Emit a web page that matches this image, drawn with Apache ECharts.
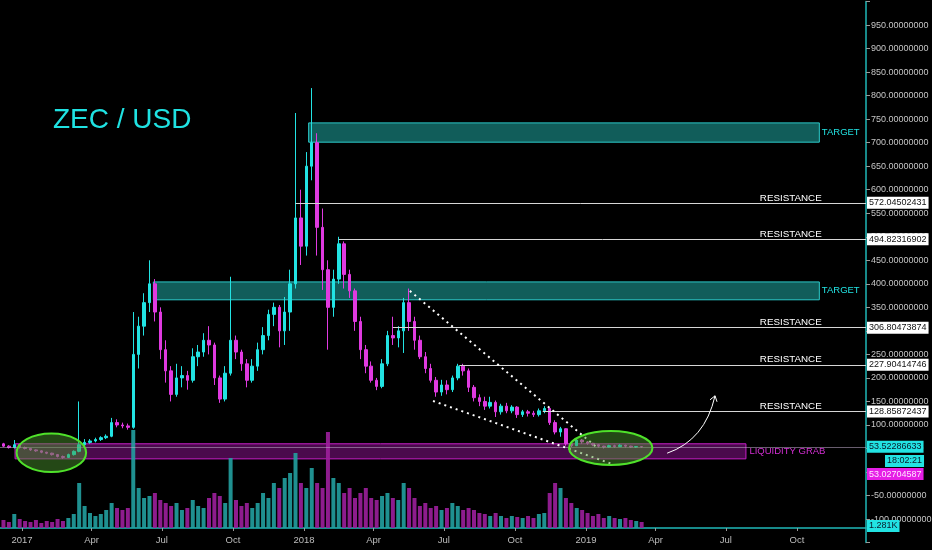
<!DOCTYPE html>
<html><head><meta charset="utf-8">
<script src="https://cdn.jsdelivr.net/npm/echarts@6/dist/echarts.min.js"></script>
<style>html,body{margin:0;padding:0;background:#000;overflow:hidden;}#c{width:932px;height:550px;}</style>
</head><body><div id="c"></div>
<script>
// ---------- data (weekly candles) ----------
const firstWeek = '2016-12-08';
const opens  = [60,55,52,58,52,50,47,45,42,40,37,33,31,37,44,58,63,66,69,73,76,105,100,98,95,250,310,360,400,340,260,215,165,200,205,195,245,255,280,270,200,155,210,280,255,230,195,225,260,290,335,350,300,340,400,540,480,650,700,520,430,350,410,485,420,385,320,260,225,195,182,230,290,285,300,360,320,280,245,220,195,170,185,175,200,225,215,180,158,150,140,148,128,140,130,138,122,128,125,122,130,135,105,85,92,60,56,68,64,61,58,55,53,56,54,57,55,53,54];
const closes = [55,52,58,52,50,47,45,42,40,37,33,31,37,44,58,63,66,69,73,76,105,100,98,95,250,310,360,400,340,260,215,165,200,205,195,245,255,280,270,200,155,210,280,255,230,195,225,260,290,335,350,300,340,400,540,480,650,700,520,430,350,410,485,420,385,320,260,225,195,182,230,290,285,300,360,320,280,245,220,195,170,185,175,200,225,215,180,158,150,140,148,128,140,130,138,122,128,125,122,130,135,105,85,92,60,56,68,64,61,58,55,53,56,54,57,55,53,54,53.5];
const lows   = [53,50,50,50,48,45,43,40,38,35,31,28,30,35,42,55,60,63,66,70,74,95,93,90,92,220,290,340,320,240,190,150,160,180,175,190,225,245,250,185,147,150,205,240,215,180,190,215,250,280,310,265,270,300,390,440,460,620,460,387,260,330,400,390,370,300,240,210,190,174,178,225,270,265,253,300,260,240,210,190,160,162,165,170,195,205,170,150,140,132,135,117,122,125,125,115,117,118,117,118,125,100,80,75,56,53,55,60,58,55,52,50,52,52,53,52,51,51,52];
const highs  = [62,57,68,60,54,51,48,46,43,41,38,35,39,46,150,70,70,73,76,80,115,112,105,103,340,330,380,450,410,350,280,225,230,225,215,263,270,295,310,275,205,225,415,290,260,240,240,275,308,345,360,355,372,430,763,600,680,816,720,560,450,430,500,490,430,390,330,270,235,200,240,300,330,310,370,390,330,290,255,230,202,196,195,205,230,230,220,185,165,160,160,152,145,147,142,140,132,132,130,135,140,137,110,96,93,63,72,70,66,62,59,56,58,58,59,58,56,55,55];
const volumes = [8,6,14,9,7,6,8,5,7,6,9,7,10,14,45,22,15,12,14,18,25,20,18,20,98,40,30,32,35,28,25,22,25,18,20,28,22,20,30,35,32,25,70,28,22,25,20,25,35,30,45,40,50,55,75,45,40,60,45,40,96,50,45,35,40,30,35,40,30,28,32,35,30,28,45,40,30,22,25,20,22,18,20,25,22,18,20,18,15,14,12,15,12,10,12,11,10,12,10,14,15,35,45,40,30,25,20,18,15,12,14,10,12,10,9,10,8,7,6];

const xTickDates  = ['2017-01-01','2017-04-01','2017-07-01','2017-10-01','2018-01-01','2018-04-01','2018-07-01','2018-10-01','2019-01-01','2019-04-01','2019-07-01','2019-10-01'];
const xTickLabels = ['2017','Apr','Jul','Oct','2018','Apr','Jul','Oct','2019','Apr','Jul','Oct'];

const resistanceLevels = [572.04502431, 494.82316902, 306.80473874, 227.90414746, 128.85872437];
const resistanceStarts = ['2017-12-21','2018-02-15','2018-04-26','2018-07-21','2018-11-06'];
const targetZones = [ {from:'2018-01-07', to:'2019-10-30', low:701, high:742}, {from:'2017-06-20', to:'2019-10-30', low:366, high:404} ];
const liquidityZone = {from:'2016-12-23', to:'2019-07-27', low:28, high:60};
const lastPrice = 53.52286633;
const lastPriceText = '53.52286633';
const prevPriceText = '53.02704587';
const countdownText = '18:02:21';
const volumeTagText = '1.281K';

// ---------- helpers ----------
const DAY = 86400000;
const T = s => Date.parse(s + 'T00:00:00Z');
const t2017 = T('2017-01-01');
const xMin = t2017 - 28.48 * DAY;
const xMax = t2017 + 1092.4 * DAY;
const weekDates = opens.map((_, i) => T(firstWeek) + i * 7 * DAY);
const tickTs = xTickDates.map(T);

const CYAN = '#22e3e3', MAG = '#e03ae0';
const FONT = "'Liberation Sans',Arial,sans-serif";
const HIDDEN = { color: 'rgba(0,0,0,0)', width: 0 };

const candleData = weekDates.map((t, i) => [t, opens[i], closes[i], lows[i], highs[i]]);
const volData = weekDates.map((t, i) => ({
  value: [t, volumes[i]],
  itemStyle: { color: closes[i] >= opens[i] ? 'rgba(34,160,160,0.9)' : 'rgba(156,31,156,0.9)' }
}));

function tag(text, bg, fg, extra) {
  return Object.assign({ show: true, position: 'end', formatter: text, backgroundColor: bg, color: fg,
    fontSize: 9, fontFamily: FONT, padding: [2, 2, 1, 2], distance: 1 }, extra || {});
}

const markLineData = [];
resistanceLevels.forEach((lv, i) => {
  markLineData.push([
    { coord: [T(resistanceStarts[i]), lv], lineStyle: { color: '#d6d6d6', width: 1, type: 'solid' },
      label: tag(lv.toFixed(8), '#ffffff', '#111') },
    { coord: [xMax, lv] }
  ]);
});
markLineData.push([
  { coord: [xMin, lastPrice], lineStyle: { color: 'rgba(190,170,200,0.55)', width: 1, type: 'solid' },
    label: tag(lastPriceText, CYAN, '#0a1a2a') },
  { coord: [xMax, lastPrice] }
]);
markLineData.push([
  { coord: [xMax - 30 * DAY, 23.4], lineStyle: HIDDEN, label: tag(countdownText, CYAN, '#0a1a2a', { distance: [19, 0] }) },
  { coord: [xMax, 23.4] }
]);
markLineData.push([
  { coord: [xMax - 30 * DAY, -4.3], lineStyle: HIDDEN, label: tag(prevPriceText, '#e61ee6', '#ffe8ff') },
  { coord: [xMax, -4.3] }
]);
markLineData.push([
  { coord: [T('2018-05-18'), 385], lineStyle: { color: '#ffffff', width: 2, type: [2, 4] }, label: { show: false } },
  { coord: [T('2019-01-16'), 51] }
]);
markLineData.push([
  { coord: [T('2018-06-17'), 151], lineStyle: { color: '#ffffff', width: 2, type: [2, 4] }, label: { show: false } },
  { coord: [T('2019-02-04'), 17] }
]);

const markAreaData = targetZones.map(z => [
  { coord: [T(z.from), z.high], itemStyle: { color: '#115d5a', borderColor: '#2ccaca', borderWidth: 1 },
    label: { show: true, position: 'right', distance: 2, formatter: 'TARGET', color: CYAN, fontSize: 9.5, fontFamily: FONT } },
  { coord: [T(z.to), z.low] }
]);
markAreaData.push([
  { coord: [T(liquidityZone.from), liquidityZone.high], itemStyle: { color: '#4a0a4c', borderColor: '#c81fc8', borderWidth: 1 },
    label: { show: true, position: 'right', distance: 3, formatter: 'LIQUIDITY GRAB', color: '#d42ed4', fontSize: 9.5, fontFamily: FONT } },
  { coord: [T(liquidityZone.to), liquidityZone.low] }
]);

const markPointData = resistanceLevels.map(lv => ({
  coord: [T('2019-09-23'), lv], symbolSize: 0,
  label: { show: true, position: 'top', distance: 0, formatter: 'RESISTANCE', color: '#ffffff', fontSize: 9.8, fontFamily: FONT }
}));

const ellipses = [
  [T('2017-02-08'), 41, 45 * DAY, 41],
  [T('2019-02-02'), 51, 54 * DAY, 36]
];
const arrow = [[T('2019-04-16'), 40, T('2019-06-04'), 68, T('2019-06-17'), 162]];

const chart = echarts.init(document.getElementById('c'), null, { renderer: 'canvas' });
chart.setOption({
  backgroundColor: '#000000',
  animation: false,
  title: { text: 'ZEC / USD', left: 53, top: 106, padding: 0,
    textStyle: { color: '#1fe2e2', fontSize: 28, fontWeight: 'normal', fontFamily: FONT } },
  grid: [
    { left: 0, right: 66, top: 1.5, bottom: 7.4, containLabel: false, outerBoundsMode: 'none' },
    { left: 0, right: 66, top: 428, bottom: 22, containLabel: false, outerBoundsMode: 'none' }
  ],
  xAxis: [
    { type: 'value', gridIndex: 0, min: xMin, max: xMax, show: false, splitLine: { show: false } },
    { type: 'value', gridIndex: 1, min: xMin, max: xMax,
      axisLine: { show: true, lineStyle: { color: '#1fb8b8', width: 1.5 } },
      axisTick: { show: true, length: 3, customValues: tickTs, lineStyle: { color: '#9a9a9a' } },
      axisLabel: { show: true, customValues: tickTs, color: '#bdbdbd', fontSize: 9.5, fontFamily: FONT, margin: 7,
        formatter: v => { const i = tickTs.indexOf(v); return i >= 0 ? xTickLabels[i] : ''; } },
      splitLine: { show: false } }
  ],
  yAxis: [
    { type: 'value', gridIndex: 0, position: 'right', min: -150, max: 1000, interval: 50,
      axisLine: { show: true, lineStyle: { color: '#1fb8b8', width: 1.5 } },
      axisTick: { show: true, length: 4, lineStyle: { color: '#9a9a9a' } },
      splitLine: { show: false },
      axisLabel: { color: '#c6c6c6', fontSize: 9, fontFamily: FONT, margin: 5,
        formatter: v => (v < -100 || v > 950) ? '' : v.toFixed(8) } },
    { type: 'value', gridIndex: 1, min: 0, max: 100, show: false, splitLine: { show: false } }
  ],
  series: [
    {
      name: 'ZEC', type: 'candlestick', xAxisIndex: 0, yAxisIndex: 0,
      data: candleData, encode: { x: 0, y: [1, 2, 3, 4] }, barWidth: 3,
      itemStyle: { color: CYAN, color0: MAG, borderColor: CYAN, borderColor0: MAG, borderWidth: 1 },
      markArea: { silent: true, data: markAreaData },
      markLine: { silent: true, symbol: ['none', 'none'], animation: false, data: markLineData },
      markPoint: { silent: true, symbol: 'circle', itemStyle: { color: 'transparent' }, data: markPointData }
    },
    {
      name: 'Volume', type: 'bar', xAxisIndex: 1, yAxisIndex: 1, data: volData, barWidth: 4,
      markLine: { silent: true, symbol: ['none', 'none'],
        data: [[ { coord: [xMax - 30 * DAY, 2], lineStyle: HIDDEN, label: tag(volumeTagText, CYAN, '#0a1a2a') }, { coord: [xMax, 2] } ]] }
    },
    {
      name: 'ellipses', type: 'custom', xAxisIndex: 0, yAxisIndex: 0, silent: true, z: 6,
      data: ellipses,
      renderItem: (params, api) => {
        const c = api.coord([api.value(0), api.value(1)]);
        const s = api.size([api.value(2), api.value(3)], [api.value(0), api.value(1)]);
        return { type: 'ellipse', shape: { cx: c[0], cy: c[1], rx: s[0], ry: s[1] },
          style: { fill: 'rgba(75,150,45,0.48)', stroke: '#4fe12a', lineWidth: 2 } };
      }
    },
    {
      name: 'arrow', type: 'custom', xAxisIndex: 0, yAxisIndex: 0, silent: true, z: 6,
      data: arrow,
      renderItem: (params, api) => {
        const p0 = api.coord([api.value(0), api.value(1)]);
        const p1 = api.coord([api.value(2), api.value(3)]);
        const p2 = api.coord([api.value(4), api.value(5)]);
        return { type: 'group', children: [
          { type: 'bezierCurve', shape: { x1: p0[0], y1: p0[1], cpx1: p1[0], cpy1: p1[1], x2: p2[0], y2: p2[1] },
            style: { stroke: '#ffffff', fill: null, lineWidth: 1 } },
          { type: 'polyline', shape: { points: [[p2[0] - 5, p2[1] + 4], [p2[0], p2[1]], [p2[0] + 2, p2[1] + 6]] },
            style: { stroke: '#ffffff', fill: null, lineWidth: 1 } }
        ] };
      }
    }
  ]
});
</script>
</body></html>
